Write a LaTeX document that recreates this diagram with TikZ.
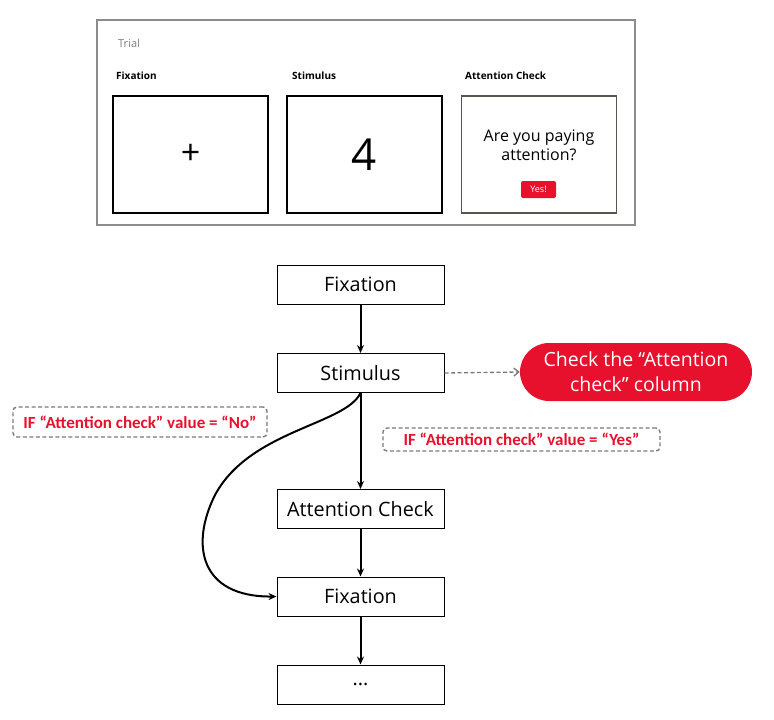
\documentclass[tikz,border=0pt]{standalone}
\usepackage{fontspec}
\setmainfont{Open Sans}
\newfontfamily\labfont{Carlito}
\usetikzlibrary{arrows.meta}
\definecolor{myred}{HTML}{E8112D}
\definecolor{bordergray}{HTML}{8C8C8C}
\definecolor{dashgray}{HTML}{7A7A7A}
\definecolor{acgray}{HTML}{55574F}
\begin{document}
\begin{tikzpicture}[x=1pt,y=-1pt,
  flowbox/.style={draw=black,line width=1pt,minimum width=167pt,minimum height=39pt,inner sep=0pt,font=\fontsize{19.8}{22}\selectfont},
  screen/.style={draw=black,line width=1.8pt,minimum width=155pt,minimum height=117pt,inner sep=0pt},
  screenlabel/.style={anchor=base west,inner sep=0pt,font=\bfseries\fontsize{10}{12}\selectfont},
  condbox/.style={draw=dashgray,dashed,dash pattern=on 4pt off 2.5pt,line width=1.4pt,rounded corners=4pt,text=myred,inner sep=0pt,font=\labfont\bfseries\fontsize{17}{20}\selectfont},
  flowarrow/.style={-{Stealth[length=8pt,width=7pt]},line width=2pt}
]
\useasboundingbox (0,0) rectangle (774,720);
% Trial panel
\node[draw=bordergray,line width=1.6pt,minimum width=538pt,minimum height=205pt,inner sep=0pt] (trial) at (366,122.5) {};
\node[anchor=base west,inner sep=0pt,text=gray,font=\fontsize{11}{13}\selectfont] (triallab) at (118,47) {Trial};
\node[screenlabel] (l1) at (116,79) {Fixation};
\node[screenlabel] (l2) at (292,79) {Stimulus};
\node[screenlabel] (l3) at (465,79) {Attention Check};
\node[screen] (s1) at (190.5,154.5) {\fontsize{34}{34}\selectfont +};
\node[screen] (s2) at (364.5,154.5) {\fontsize{44}{44}\selectfont 4};
\node[screen,draw=acgray] (s3) at (539,154.5) {};
\node[align=center,inner sep=0pt,font=\fontsize{16}{19}\selectfont] (q) at (539,145) {Are you paying\\attention?};
\node[fill=myred,rounded corners=2pt,minimum width=35pt,minimum height=17pt,inner sep=0pt,text=white,font=\fontsize{9}{10}\selectfont] (yes) at (538.5,189.5) {Yes!};
% Flow
\node[flowbox] (f1) at (360.5,284.5) {Fixation};
\node[flowbox] (st) at (360.5,373) {Stimulus};
\node[flowbox] (ac) at (360.5,509) {Attention Check};
\node[flowbox] (f2) at (360.5,596.5) {Fixation};
\node[flowbox] (dots) at (360.5,684.5) {...};
\node[fill=myred,rounded corners=29pt,minimum width=232pt,minimum height=58pt,inner sep=0pt,align=center,text=white,font=\fontsize{19.5}{25}\selectfont] (pill) at (636,372) {Check the \textquotedblleft Attention\\check\textquotedblright\ column};
\node[condbox,minimum width=254pt,minimum height=30pt] (no) at (140,422) {IF \textquotedblleft Attention check\textquotedblright\ value = \textquotedblleft No\textquotedblright};
\node[condbox,minimum width=277pt,minimum height=23pt] (yesc) at (521.5,439.5) {IF \textquotedblleft Attention check\textquotedblright\ value = \textquotedblleft Yes\textquotedblright};
\draw[flowarrow] (f1) -- (st);
\draw[flowarrow] (st) -- (ac);
\draw[flowarrow] (ac) -- (f2);
\draw[flowarrow] (f2) -- (dots);
\draw[-{Straight Barb[length=5pt,width=8pt]},dashgray,dashed,dash pattern=on 4pt off 2.5pt,line width=1.3pt] (st.east) -- (pill.west);
\draw[flowarrow] (st.south) .. controls (345,425) and (250,430) .. (215,495) .. controls (190,545) and (200,597) .. (f2.west);
\end{tikzpicture}
\end{document}
